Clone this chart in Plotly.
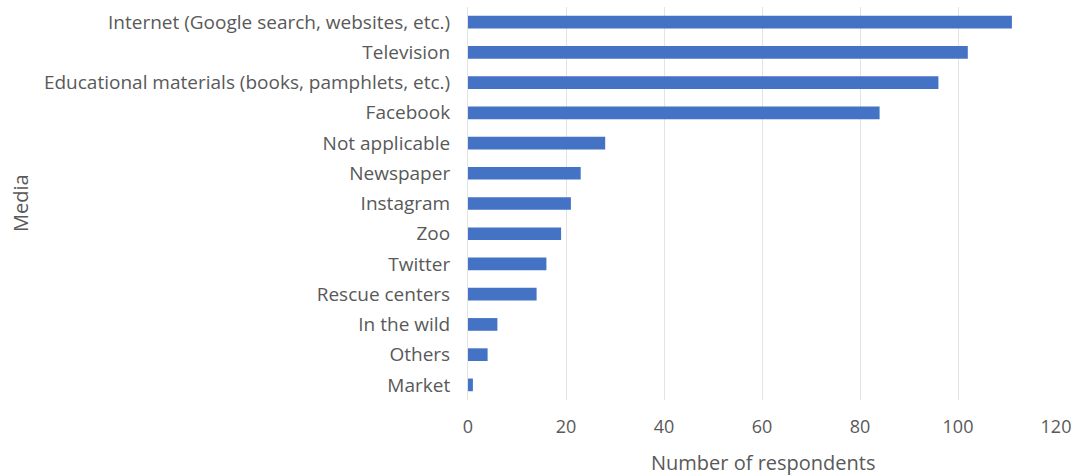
import plotly.graph_objects as go

# Survey: where respondents learned about the species
media = [
    "Internet (Google search, websites, etc.)",
    "Television",
    "Educational materials (books, pamphlets, etc.)",
    "Facebook",
    "Not applicable",
    "Newspaper",
    "Instagram",
    "Zoo",
    "Twitter",
    "Rescue centers",
    "In the wild",
    "Others",
    "Market",
]
respondents = [111, 102, 96, 84, 28, 23, 21, 19, 16, 14, 6, 4, 1]
x_ticks = [0, 20, 40, 60, 80, 100, 120]

TEXT = "#595959"
FONT = "Open Sans"

fig = go.Figure(
    go.Bar(
        y=media,
        x=respondents,
        orientation="h",
        marker=dict(color="#4472C4", line=dict(width=0)),
        width=0.42,
    )
)

W, H = 1074, 475
L, R, T, B = 468, 18, 7, 75
plot_w = W - L - R
plot_h = H - T - B

fig.update_layout(
    width=W,
    height=H,
    margin=dict(l=L, r=R, t=T, b=B, autoexpand=False),
    plot_bgcolor="white",
    paper_bgcolor="white",
    showlegend=False,
    font=dict(family=FONT, size=14, color=TEXT),
    xaxis=dict(
        range=[0, 120],
        tickvals=x_ticks,
        ticktext=[str(v) for v in x_ticks],
        showgrid=True,
        gridcolor="#e3e3e3",
        gridwidth=1,
        zeroline=False,
        showline=False,
        ticklabelstandoff=14,
        tickfont=dict(size=18, color=TEXT),
    ),
    yaxis=dict(
        categoryorder="array",
        categoryarray=media[::-1],
        showgrid=False,
        zeroline=False,
        showline=True,
        linecolor="#e3e3e3",
        linewidth=1,
        ticklabelstandoff=13,
        tickfont=dict(size=19, color=TEXT),
    ),
    annotations=[
        dict(
            text="Number of respondents",
            xref="paper", yref="paper",
            x=(763 - L) / plot_w, y=-(462 - T - plot_h) / plot_h,
            xanchor="center", yanchor="middle",
            showarrow=False,
            font=dict(size=20, color=TEXT),
        ),
        dict(
            text="Media",
            xref="paper", yref="paper",
            x=-(L - 20) / plot_w, y=(T + plot_h - 203) / plot_h,
            xanchor="center", yanchor="middle",
            textangle=-90,
            showarrow=False,
            font=dict(size=20, color=TEXT),
        ),
    ],
)

fig.write_html("out.html")
